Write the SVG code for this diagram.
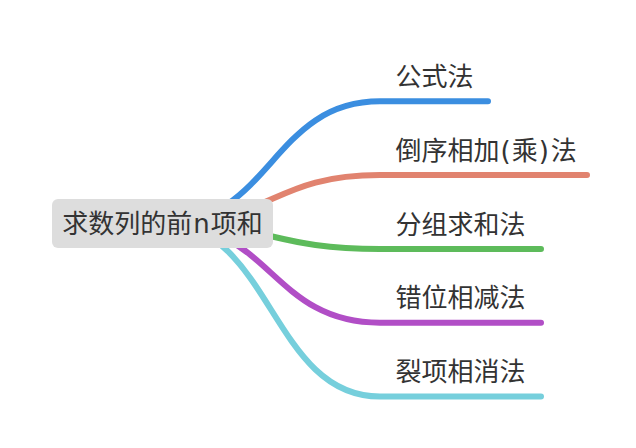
<svg xmlns="http://www.w3.org/2000/svg" width="636" height="448" viewBox="0 0 636 448">
<style>
  .ln { fill: none; stroke-width: 6; stroke-linecap: round; stroke-linejoin: round; }
  .t { font-family: "DejaVu Sans", "Noto Sans CJK SC", sans-serif; font-size: 26px; fill: #333333; }
</style>
<rect width="636" height="448" fill="#ffffff"/>
<g id="connectors">
  <path class="ln" stroke="#3b8ee0" d="M162.5,223.5 C271.25,223.5 271.25,101.3 380,101.3 L488,101.3"/>
  <path class="ln" stroke="#e1836f" d="M162.5,223.5 C271.25,223.5 271.25,175 380,175 L587,175"/>
  <path class="ln" stroke="#5dbb5b" d="M162.5,223.5 C271.25,223.5 271.25,249 380,249 L541,249"/>
  <path class="ln" stroke="#b14ec6" d="M162.5,223.5 C271.25,223.5 271.25,322.7 380,322.7 L541,322.7"/>
  <path class="ln" stroke="#76cfdc" d="M162.5,223.5 C271.25,223.5 271.25,396.5 380,396.5 L541,396.5"/>
</g>
<g id="root">
  <rect x="52" y="199" width="221" height="49" rx="6" fill="#dddddd"/>
  <text class="t" x="162.5" y="233" text-anchor="middle">求数列的前<tspan dx="1">n</tspan><tspan dx="1">项和</tspan></text>
</g>
<g id="n1"><text class="t" x="395.5" y="85.5">公式法</text></g>
<g id="n2"><text class="t" x="395.5" y="159.5">倒序相加<tspan dx="1">(</tspan><tspan dx="1">乘</tspan><tspan dx="1">)</tspan><tspan dx="2">法</tspan></text></g>
<g id="n3"><text class="t" x="395.5" y="233.5">分组求和法</text></g>
<g id="n4"><text class="t" x="395.5" y="307">错位相减法</text></g>
<g id="n5"><text class="t" x="395.5" y="381">裂项相消法</text></g>
</svg>
